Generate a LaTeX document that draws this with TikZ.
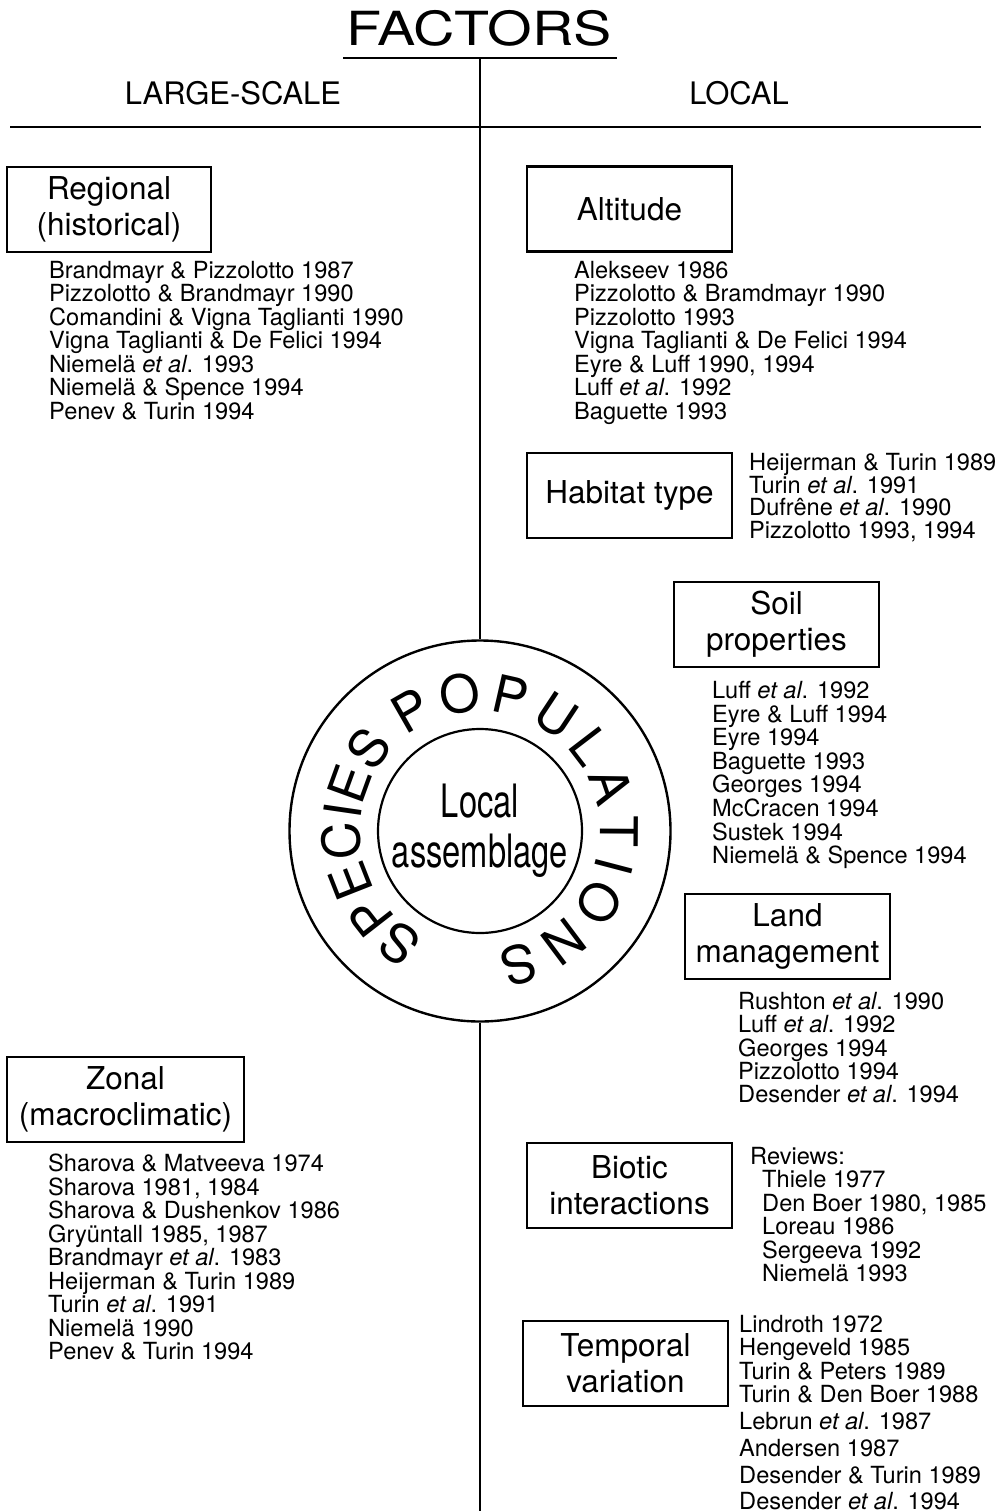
\documentclass[tikz,border=0pt]{standalone}
\usepackage{fontspec}
\setmainfont{TeX Gyre Heros}
\newfontfamily\factorsfont[FakeStretch=1.22]{TeX Gyre Heros}
\newfontfamily\condfont[FakeStretch=0.71]{TeX Gyre Heros}
\usetikzlibrary{decorations.text}
\newcommand\circtextsize{\fontsize{52}{60}\selectfont}
\begin{document}
\begin{tikzpicture}[x=1pt,y=1pt,
  rule/.style={line width=2pt},
  factorbox/.style={draw, line width=2.6pt, minimum width=205pt, minimum height=85pt,
    inner sep=0pt, align=center, font=\fontsize{31.5}{36}\selectfont},
  refs/.style={anchor=north west, inner sep=0pt, align=left, font=\fontsize{23.6}{23.5}\selectfont},
  heading/.style={anchor=base, inner sep=0pt, font=\fontsize{31}{36}\selectfont},
  ringtext/.style 2 args={decorate, decoration={text along path, text={|\circtextsize|#1},
    text align={#2}}}
]
\useasboundingbox (0,0) rectangle (1003,-1511);

% title and rules
\node[anchor=base, inner sep=0pt, font=\factorsfont\fontsize{47}{50}\selectfont] (title) at (479,-46) {FACTORS};
\coordinate (ulL) at (343,-58);
\coordinate (ulR) at (617,-58);
\draw[rule] (ulL) -- (ulR);
\coordinate (hL) at (10,-127);
\coordinate (hR) at (981,-127);
\draw[rule] (hL) -- (hR);
\node[heading] (large) at (233,-105) {LARGE-SCALE};
\node[heading] (local) at (739,-105) {LOCAL};

% central circles
\node[circle, draw, line width=2.4pt, minimum size=381pt, inner sep=0pt] (outer) at (480,-831) {};
\node[circle, draw, line width=2.2pt, minimum size=204pt, inner sep=0pt, align=center,
  font=\condfont\fontsize{46}{50}\selectfont] (inner) at (480,-831) {Local\\assemblage};
\coordinate (vtop) at (480,-58);
\coordinate (vbot) at (480,-1511);
\draw[rule] (vtop) -- (outer.north);
\draw[rule] (outer.south) -- (vbot);
\path[ringtext={SPECIES}{center}]
  (outer.center) ++(251:120) arc[start angle=251, end angle=127, radius=120];
\path[ringtext={POPULATIONS}{fit to path}]
  (outer.center) ++(128:120) arc[start angle=128, end angle=-82, radius=120];

% large-scale boxes
\node[factorbox, minimum width=204pt] (regional) at (109,-209.5) {Regional\\(historical)};
\node[refs] (regionalrefs) at (49,-261) {Brandmayr \& Pizzolotto 1987\\
Pizzolotto \& Brandmayr 1990\\
Comandini \& Vigna Taglianti 1990\\
Vigna Taglianti \& De Felici 1994\\
Niemelä \textit{et al}. 1993\\
Niemelä \& Spence 1994\\
Penev \& Turin 1994};

\node[factorbox, minimum width=237pt] (zonal) at (125.5,-1099.5) {Zonal\\(macroclimatic)};
\node[refs] (zonalrefs) at (48,-1154) {Sharova \& Matveeva 1974\\
Sharova 1981, 1984\\
Sharova \& Dushenkov 1986\\
Gryüntall 1985, 1987\\
Brandmayr \textit{et al}. 1983\\
Heijerman \& Turin 1989\\
Turin \textit{et al}. 1991\\
Niemelä 1990\\
Penev \& Turin 1994};

% local boxes
\node[factorbox] (altitude) at (629.5,-209) {Altitude};
\node[refs] (altituderefs) at (574,-261) {Alekseev 1986\\
Pizzolotto \& Bramdmayr 1990\\
Pizzolotto 1993\\
Vigna Taglianti \& De Felici 1994\\
Eyre \& Luff 1990, 1994\\
Luff \textit{et al}. 1992\\
Baguette 1993};

\node[factorbox] (habitat) at (629.5,-495.5) {Habitat type};
\node[refs, font=\fontsize{23.6}{22.7}\selectfont] (habitatrefs) at (749,-453) {Heijerman \& Turin 1989\\
Turin \textit{et al}. 1991\\
Dufrêne \textit{et al}. 1990\\
Pizzolotto 1993, 1994};

\node[factorbox] (soil) at (776.5,-624.5) {Soil\\properties};
\node[refs, font=\fontsize{23.6}{23.6}\selectfont] (soilrefs) at (712,-681) {Luff \textit{et al}. 1992\\
Eyre \& Luff 1994\\
Eyre 1994\\
Baguette 1993\\
Georges 1994\\
McCracen 1994\\
Sustek 1994\\
Niemelä \& Spence 1994};

\node[factorbox] (land) at (787.5,-936.5) {Land\\management};
\node[refs, font=\fontsize{23.6}{23.3}\selectfont] (landrefs) at (738,-992) {Rushton \textit{et al}. 1990\\
Luff \textit{et al}. 1992\\
Georges 1994\\
Pizzolotto 1994\\
Desender \textit{et al}. 1994};

\node[factorbox] (biotic) at (629.5,-1185.5) {Biotic\\interactions};
\node[refs, font=\fontsize{23.6}{23.4}\selectfont] (bioticrefs) at (750,-1147) {Reviews:\\
\hspace*{12pt}Thiele 1977\\
\hspace*{12pt}Den Boer 1980, 1985\\
\hspace*{12pt}Loreau 1986\\
\hspace*{12pt}Sergeeva 1992\\
\hspace*{12pt}Niemelä 1993};

\node[factorbox] (temporal) at (625.5,-1363.5) {Temporal\\variation};
\node[refs] (temporalrefs) at (739,-1315) {Lindroth 1972\\
Hengeveld 1985\\
Turin \& Peters 1989\\
Turin \& Den Boer 1988\\[3.5pt]
Lebrun \textit{et al}. 1987\\[3.5pt]
Andersen 1987\\[3.5pt]
Desender \& Turin 1989\\[2.5pt]
Desender \textit{et al}. 1994};
\end{tikzpicture}
\end{document}
